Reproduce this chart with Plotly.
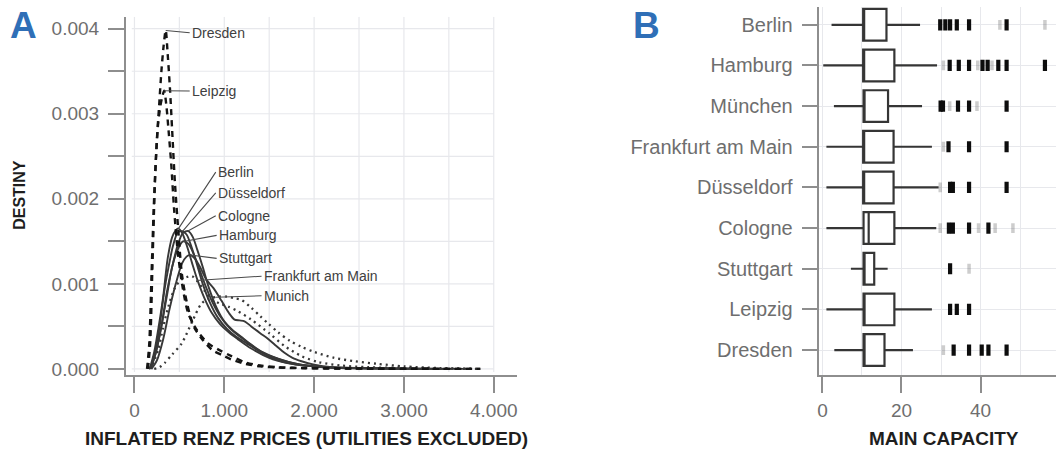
import plotly.graph_objects as go
import numpy as np

# ---------------- Panel A: rent price densities ----------------
dresden_x = [150, 175, 200, 225, 250, 275, 300, 325, 348, 370, 395, 420, 450, 490, 530, 590, 660, 760, 870, 980, 1080, 1230, 1400, 1600, 1900, 2300, 2800, 3300, 3850]
dresden_y = [0, 0.0003, 0.0012, 0.0021, 0.0027, 0.0031, 0.0035, 0.0038, 0.00398, 0.0037, 0.0033, 0.0028, 0.0022, 0.0016, 0.0011, 0.00075, 0.0005, 0.00034, 0.00022, 0.00016, 0.00011, 0.00006, 0.00003, 0.000015, 0.000008, 0.000004, 0.000002, 0.000001, 0]

leipzig_x = [140, 165, 190, 215, 240, 265, 290, 310, 331, 355, 380, 410, 440, 480, 530, 600, 700, 820, 930, 1080, 1225, 1400, 1600, 1900, 2300, 2800, 3300, 3850]
leipzig_y = [0, 0.0003, 0.0011, 0.0019, 0.0025, 0.0029, 0.0031, 0.0032, 0.00327, 0.0031, 0.0028, 0.0024, 0.0019, 0.0014, 0.001, 0.00065, 0.00045, 0.0003, 0.00023, 0.00015, 0.00008, 0.00004, 0.00002, 0.00001, 0.000005, 0.000003, 0.000001, 0]

berlin_x = [170, 220, 270, 320, 370, 420, 460, 490, 530, 580, 640, 700, 780, 860, 950, 1050, 1150, 1300, 1500, 1700, 1900, 2150, 2500, 3000, 3500]
berlin_y = [0, 0.0002, 0.0005, 0.00085, 0.0013, 0.00155, 0.00163, 0.00165, 0.0016, 0.00146, 0.00125, 0.00105, 0.00083, 0.00066, 0.00053, 0.00043, 0.00035, 0.00024, 0.00013, 0.00007, 0.00004, 0.00002, 0.00001, 0.000003, 0]

duesseldorf_x = [175, 230, 280, 330, 380, 430, 480, 530, 580, 630, 690, 760, 840, 930, 1030, 1130, 1250, 1400, 1600, 1800, 2000, 2300, 2700, 3200]
duesseldorf_y = [0, 0.0002, 0.0005, 0.0009, 0.0012, 0.00145, 0.0016, 0.00162, 0.00158, 0.00145, 0.00125, 0.001, 0.00078, 0.0006, 0.00047, 0.00038, 0.0003, 0.0002, 0.0001, 0.00005, 0.00003, 0.00001, 0.000004, 0]

cologne_x = [180, 240, 300, 360, 420, 480, 540, 600, 650, 700, 760, 830, 910, 1000, 1100, 1200, 1300, 1450, 1650, 1850, 2100, 2500, 3000]
cologne_y = [0, 0.0002, 0.0005, 0.0009, 0.0012, 0.00145, 0.0016, 0.00162, 0.00155, 0.0014, 0.0012, 0.00095, 0.00073, 0.00056, 0.00045, 0.00037, 0.00028, 0.00018, 0.0001, 0.00005, 0.00002, 0.000008, 0]

hamburg_x = [180, 240, 300, 360, 420, 480, 540, 600, 660, 720, 790, 870, 960, 1060, 1160, 1280, 1420, 1600, 1800, 2000, 2300, 2700, 3200, 3700]
hamburg_y = [0, 0.0002, 0.0005, 0.00085, 0.0012, 0.0014, 0.0015, 0.00147, 0.00135, 0.00118, 0.00098, 0.00078, 0.00061, 0.00048, 0.00039, 0.0003, 0.0002, 0.00012, 0.00006, 0.00003, 0.000015, 0.000006, 0.000002, 0]

stuttgart_x = [190, 250, 320, 390, 460, 530, 580, 620, 670, 730, 800, 880, 970, 1050, 1114, 1170, 1226, 1300, 1400, 1492, 1580, 1670, 1760, 1860, 2000, 2200, 2500, 3000, 3500]
stuttgart_y = [0, 0.0001, 0.00035, 0.0007, 0.001, 0.00124, 0.00132, 0.00134, 0.0013, 0.0012, 0.00105, 0.00095, 0.0008, 0.00066, 0.00058, 0.00057, 0.00056, 0.0005, 0.00042, 0.00035, 0.00027, 0.00019, 0.00013, 0.00009, 0.00005, 0.00002, 0.00001, 0.000003, 0]

frankfurt_x = [160, 200, 230, 266, 322, 377, 449, 520, 580, 640, 700, 780, 860, 950, 1050, 1150, 1300, 1500, 1670, 1860, 2050, 2300, 2600, 3000, 3400, 3850]
frankfurt_y = [0, 0.00005, 0.00012, 0.00023, 0.0005, 0.00073, 0.00095, 0.00105, 0.00108, 0.00109, 0.00103, 0.00092, 0.00082, 0.00077, 0.00073, 0.00068, 0.00058, 0.00042, 0.00027, 0.00015, 0.00008, 0.00004, 0.00002, 0.00001, 0.000004, 0]

munich_x = [220, 280, 337, 420, 526, 640, 748, 840, 933, 1030, 1114, 1192, 1300, 1400, 1492, 1600, 1730, 1859, 2000, 2225, 2450, 2700, 3000, 3400, 3850]
munich_y = [0, 0.00002, 0.00007, 0.00017, 0.0003, 0.00055, 0.00077, 0.00083, 0.00085, 0.00085, 0.00083, 0.00081, 0.00072, 0.00062, 0.00053, 0.00043, 0.00033, 0.00026, 0.0002, 0.00013, 0.00009, 0.00006, 0.00003, 0.00001, 0]

# city name, x, y, line style, where the leader meets the curve (price)
density_series = [
    ("Dresden", dresden_x, dresden_y, "dash", 348),
    ("Leipzig", leipzig_x, leipzig_y, "dash", 331),
    ("Berlin", berlin_x, berlin_y, "solid", 490),
    ("Düsseldorf", duesseldorf_x, duesseldorf_y, "solid", 535),
    ("Cologne", cologne_x, cologne_y, "solid", 580),
    ("Hamburg", hamburg_x, hamburg_y, "solid", 545),
    ("Stuttgart", stuttgart_x, stuttgart_y, "solid", 620),
    ("Frankfurt am Main", frankfurt_x, frankfurt_y, "dot", 690),
    ("Munich", munich_x, munich_y, "dot", 900),
]

# label text anchor (price, density) for each city
label_anchor = {
    "Dresden": (615, 0.003953),
    "Leipzig": (615, 0.003267),
    "Berlin": (905, 0.002314),
    "Düsseldorf": (905, 0.00207),
    "Cologne": (905, 0.001802),
    "Hamburg": (915, 0.00157),
    "Stuttgart": (915, 0.0013),
    "Frankfurt am Main": (1415, 0.00109),
    "Munich": (1415, 0.00086),
}

a_xticks = [0, 1000, 2000, 3000, 4000]
a_xticktext = ["0", "1.000", "2.000", "3.000", "4.000"]
a_yticks = [0, 0.0005, 0.001, 0.0015, 0.002, 0.0025, 0.003, 0.0035, 0.004]
a_yticktext = ["0.000", "", "0.001", "", "0.002", "", "0.003", "", "0.004"]
a_xgrid = [0, 500, 1000, 1500, 2000, 2500, 3000, 3500, 4000]

# ---------------- Panel B: capacity box plots ----------------
cities_b = ["Berlin", "Hamburg", "München", "Frankfurt am Main", "Düsseldorf",
            "Cologne", "Stuttgart", "Leipzig", "Dresden"]
lower_fence = [2.3, 0.2, 2.9, 1.0, 1.0, 1.0, 7.2, 1.0, 3.0]
q1_vals = [10.3, 10.3, 10.4, 10.3, 10.3, 10.4, 10.4, 10.4, 10.4]
median_vals = [10.3, 10.3, 10.4, 10.3, 10.3, 11.7, 10.4, 10.4, 10.4]
q3_vals = [16.2, 18.2, 16.6, 18.0, 18.0, 18.2, 13.1, 18.2, 15.7]
upper_fence = [24.7, 29.0, 25.2, 27.7, 29.4, 28.8, 16.5, 27.7, 22.9]

outliers_dense = {
    "Berlin": [29.8, 31.1, 32.3, 34.0, 37.1, 46.6],
    "Hamburg": [32.2, 34.5, 37.1, 40.5, 41.8, 44.5, 46.6, 56.3],
    "München": [29.9, 30.5, 34.3, 37.1, 46.6],
    "Frankfurt am Main": [31.9, 37.1, 46.6],
    "Düsseldorf": [32.3, 33.0, 37.1, 46.6],
    "Cologne": [32.0, 33.0, 37.1, 42.0],
    "Stuttgart": [32.3],
    "Leipzig": [32.3, 34.0, 37.1],
    "Dresden": [33.2, 37.1, 40.3, 42.0, 46.6],
}
outliers_sparse = {
    "Berlin": [44.9, 56.3],
    "Hamburg": [30.6, 39.3, 42.9],
    "München": [32.2, 39.1],
    "Frankfurt am Main": [30.6],
    "Düsseldorf": [29.8],
    "Cologne": [29.8, 39.5, 43.7, 48.2],
    "Stuttgart": [37.1],
    "Leipzig": [],
    "Dresden": [30.6],
}

b_xticks = [0, 20, 40]
b_xticktext = ["0", "20", "40"]
b_xminor = [10, 30, 50]

# ---------------- styling ----------------
FONT = "Liberation Sans, Arial, sans-serif"
AXIS_GREY = "#8e8e8e"
TICK_TEXT = "#6e6e6e"
GRID = "#e7e8ec"
PANEL_BLUE = "#2f6fb7"
W, H = 1056, 456


def px_x(p):
    return p / W


def px_y(p):
    return 1 - p / H


fig = go.Figure()

line_styles = {
    "dash": dict(color="#141414", width=2.4, dash="6px,5px"),
    "solid": dict(color="#383838", width=1.9, dash="solid"),
    "dot": dict(color="#383838", width=2.3, dash="2px,4px"),
}

# draw dotted, then solid, then dashed on top
order = {"dot": 0, "solid": 1, "dash": 2}
for name, xs, ys, style, _ in sorted(density_series, key=lambda s: order[s[3]]):
    fig.add_trace(go.Scatter(
        x=xs, y=ys, mode="lines", name=name,
        line=dict(shape="spline", smoothing=0.8, **line_styles[style]),
        xaxis="x", yaxis="y", showlegend=False, hoverinfo="skip",
    ))

annotations = []
for name, xs, ys, style, tip_price in density_series:
    tip_density = float(np.interp(tip_price, xs, ys))
    lx, ly = label_anchor[name]
    annotations.append(dict(
        x=tip_price, y=tip_density, xref="x", yref="y",
        ax=lx, ay=ly, axref="x", ayref="y",
        text=name, showarrow=True, arrowhead=0, arrowwidth=1.1,
        arrowcolor="#4a4a4a", standoff=0,
        xanchor="left", yanchor="middle",
        font=dict(family=FONT, size=14, color="#404040"),
    ))

# gridlines for panel A, kept inside the data frame
shapes = []
a_x_left, a_x_right = -30, 4000
a_y_bottom, a_y_top = -0.000035, 0.00414
for gy in a_yticks:
    shapes.append(dict(type="line", xref="x", yref="y", x0=a_x_left, x1=a_x_right,
                       y0=gy, y1=gy, line=dict(color=GRID, width=1.2), layer="below"))
for gx in a_xgrid:
    shapes.append(dict(type="line", xref="x", yref="y", x0=gx, x1=gx,
                       y0=a_y_bottom, y1=a_y_top, line=dict(color=GRID, width=1.2), layer="below"))

# ---- Panel B traces ----
fig.add_trace(go.Box(
    y=cities_b, q1=q1_vals, median=median_vals, q3=q3_vals,
    lowerfence=lower_fence, upperfence=upper_fence,
    orientation="h", xaxis="x2", yaxis="y2",
    fillcolor="white", line=dict(color="#353535", width=2.2),
    whiskerwidth=0, width=0.78, boxpoints=False, showlegend=False, hoverinfo="skip",
))

sx, sy = [], []
dx, dy = [], []
for c in cities_b:
    for v in outliers_sparse[c]:
        sx.append(v)
        sy.append(c)
    for v in outliers_dense[c]:
        dx.append(v)
        dy.append(c)

fig.add_trace(go.Scatter(
    x=sx, y=sy, mode="markers", xaxis="x2", yaxis="y2", showlegend=False, hoverinfo="skip",
    marker=dict(symbol="line-ns", size=7, line=dict(color="rgba(90,90,90,0.3)", width=3.5)),
))
fig.add_trace(go.Scatter(
    x=dx, y=dy, mode="markers", xaxis="x2", yaxis="y2", showlegend=False, hoverinfo="skip",
    marker=dict(symbol="line-ns", size=8, line=dict(color="#0d0d0d", width=4.2)),
))

# axis titles and panel letters
annotations += [
    dict(text="<b>INFLATED RENZ PRICES (UTILITIES EXCLUDED)</b>", x=px_x(305), y=px_y(443),
         xref="paper", yref="paper", showarrow=False, xanchor="center", yanchor="middle",
         font=dict(family=FONT, size=19, color="#1e1e1e")),
    dict(text="<b>DESTINY</b>", x=px_x(18), y=px_y(197), textangle=-90,
         xref="paper", yref="paper", showarrow=False, xanchor="center", yanchor="middle",
         font=dict(family=FONT, size=16, color="#1e1e1e")),
    dict(text="<b>MAIN CAPACITY</b>", x=px_x(944), y=px_y(443),
         xref="paper", yref="paper", showarrow=False, xanchor="center", yanchor="middle",
         font=dict(family=FONT, size=19, color="#1e1e1e")),
    dict(text="<b>A</b>", x=px_x(22), y=px_y(26),
         xref="paper", yref="paper", showarrow=False, xanchor="center", yanchor="middle",
         font=dict(family=FONT, size=37, color=PANEL_BLUE)),
    dict(text="<b>B</b>", x=px_x(646), y=px_y(26),
         xref="paper", yref="paper", showarrow=False, xanchor="center", yanchor="middle",
         font=dict(family=FONT, size=37, color=PANEL_BLUE)),
]

axis_common = dict(
    showline=True, linecolor=AXIS_GREY, linewidth=1.6,
    ticks="outside", ticklen=16, tickwidth=1.5, tickcolor=AXIS_GREY,
    zeroline=False,
)

fig.update_layout(
    width=W, height=H,
    margin=dict(l=0, r=0, t=0, b=0),
    paper_bgcolor="white", plot_bgcolor="white",
    font=dict(family=FONT),
    shapes=shapes,
    annotations=annotations,
    xaxis=dict(
        domain=[px_x(124), px_x(516)], range=[-96.7, 4259], anchor="y",
        tickvals=a_xticks, ticktext=a_xticktext, showgrid=False,
        tickfont=dict(family=FONT, size=19, color=TICK_TEXT), ticklabelstandoff=2,
        **axis_common,
    ),
    yaxis=dict(
        domain=[px_y(379), px_y(17)], range=[-0.0000698, 0.00414], anchor="x",
        tickvals=a_yticks, ticktext=a_yticktext, showgrid=False,
        tickfont=dict(family=FONT, size=19, color=TICK_TEXT), ticklabelstandoff=5,
        **axis_common,
    ),
    xaxis2=dict(
        domain=[px_x(819), 1.0], range=[-0.76, 59.1], anchor="y2",
        tickvals=b_xticks, ticktext=b_xticktext,
        showgrid=True, gridcolor=GRID, gridwidth=1.2,
        minor=dict(tickvals=b_xminor, showgrid=True, gridcolor=GRID, gridwidth=1.2, ticks=""),
        tickfont=dict(family=FONT, size=19, color=TICK_TEXT), ticklabelstandoff=2,
        **axis_common,
    ),
    yaxis2=dict(
        domain=[px_y(379), px_y(7)], anchor="x2", type="category",
        categoryorder="array", categoryarray=list(reversed(cities_b)),
        range=[-0.61, 8.44], showgrid=True, gridcolor=GRID, gridwidth=1.2,
        tickfont=dict(family=FONT, size=20, color=TICK_TEXT), ticklabelstandoff=5,
        **axis_common,
    ),
)

fig.write_html("out.html")
